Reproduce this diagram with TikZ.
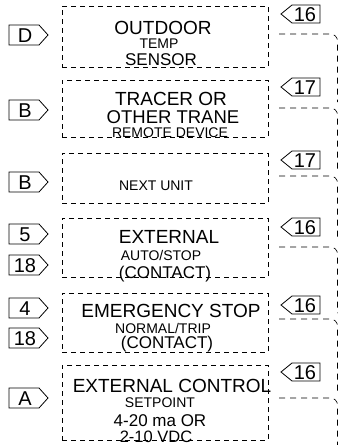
\documentclass[tikz,border=0pt]{standalone}
\usepackage{fontspec}
\setmainfont{Liberation Sans}
\newcommand\lefttag[3]{%
  \draw[tagline] (9,{#2-10}) -- (39,{#2-10}) -- (48,#2) -- (39,{#2+10}) -- (9,{#2+10}) -- cycle;
  \node[tagtext] (#1) at (25,{#2+7}) {#3};}
\newcommand\righttag[3]{%
  \draw[tagline] (320,{#2-9}) -- (292,{#2-9}) -- (281,#2) -- (292,{#2+9}) -- (320,{#2+9}) -- cycle;
  \node[tagtext] (#1) at (305,{#2+7}) {#3};}
\begin{document}
\begin{tikzpicture}[x=1pt,y=-1pt,
  dbox/.style={draw, dash pattern=on 5pt off 4pt, line width=0.6pt, minimum width=206pt, inner sep=0pt},
  tagline/.style={draw, line width=0.8pt, line join=miter},
  tagtext/.style={font=\fontsize{20}{20}\selectfont, inner sep=0pt, anchor=base},
  big/.style={font=\fontsize{19}{19}\selectfont, inner sep=0pt, anchor=base},
  mid/.style={font=\fontsize{17}{17}\selectfont, inner sep=0pt, anchor=base},
  small/.style={font=\fontsize{14}{14}\selectfont, inner sep=0pt, anchor=base},
  conn/.style={draw, dash pattern=on 6pt off 5pt, line width=0.6pt, rounded corners=7pt}]
\useasboundingbox (0,0) rectangle (339,445);

% dashed boxes
\node[dbox, minimum height=61pt] (box1) at (165,36.5) {};
\node[dbox, minimum height=57pt] (box2) at (165,108.5) {};
\node[dbox, minimum height=50pt] (box3) at (165,178) {};
\node[dbox, minimum height=59pt] (box4) at (165,247.5) {};
\node[dbox, minimum height=59pt] (box5) at (165,322.5) {};
\node[dbox, minimum height=75pt] (box6) at (165,402.5) {};

% box texts
\node[big]   (t1a) at (163,34) {OUTDOOR};
\node[small] (t1b) at (159,48) {TEMP};
\node[mid]   (t1c) at (161,65) {SENSOR};

\node[big]   (t2a) at (171,105.5) {TRACER OR};
\node[big, font=\fontsize{18.5}{18.5}\selectfont] (t2b) at (173,123.5) {OTHER TRANE};
\node[small] (t2c) at (170,137) {REMOTE DEVICE};

\node[small] (t3a) at (156,190) {NEXT UNIT};

\node[big]   (t4a) at (169,243) {EXTERNAL};
\node[small] (t4b) at (161,260) {AUTO/STOP};
\node[mid]   (t4c) at (165,278) {(CONTACT)};

\node[big]   (t5a) at (171,317) {EMERGENCY STOP};
\node[small] (t5b) at (163,333) {NORMAL/TRIP};
\node[mid]   (t5c) at (167,348) {(CONTACT)};

\node[big]   (t6a) at (172,392) {EXTERNAL CONTROL};
\node[small] (t6b) at (160,407) {SETPOINT};
\node[mid]   (t6c) at (160,426.5) {4-20 ma OR};
\node[mid, font=\fontsize{16.5}{16.5}\selectfont] (t6d) at (156,442.5) {2-10 VDC};

% left tags
\lefttag{lD}{35}{D}
\lefttag{lB1}{110}{B}
\lefttag{lB2}{182}{B}
\lefttag{l5}{234}{5}
\lefttag{l18a}{265}{18}
\lefttag{l4}{308}{4}
\lefttag{l18b}{338}{18}
\lefttag{lA}{398}{A}

% right tags
\righttag{r1}{14}{16}
\righttag{r2}{87}{17}
\righttag{r3}{160}{17}
\righttag{r4}{227}{16}
\righttag{r5}{305}{16}
\righttag{r6}{372}{16}

% right dashed leads
\coordinate (c1s) at (279,34);  \coordinate (c1c) at (337.5,34);  \coordinate (c1e) at (337.5,102);
\coordinate (c2s) at (279,108); \coordinate (c2c) at (337.5,108); \coordinate (c2e) at (337.5,170);
\coordinate (c3s) at (279,176); \coordinate (c3c) at (337.5,176); \coordinate (c3e) at (337.5,241);
\coordinate (c4s) at (279,247); \coordinate (c4c) at (337.5,247); \coordinate (c4e) at (337.5,313);
\coordinate (c5s) at (279,319); \coordinate (c5c) at (337.5,319); \coordinate (c5e) at (337.5,392);
\coordinate (c6s) at (279,398); \coordinate (c6c) at (337.5,398); \coordinate (c6e) at (337.5,445);
\foreach \i in {1,...,6}{\draw[conn] (c\i s) -- (c\i c) -- (c\i e);}
\end{tikzpicture}
\end{document}
